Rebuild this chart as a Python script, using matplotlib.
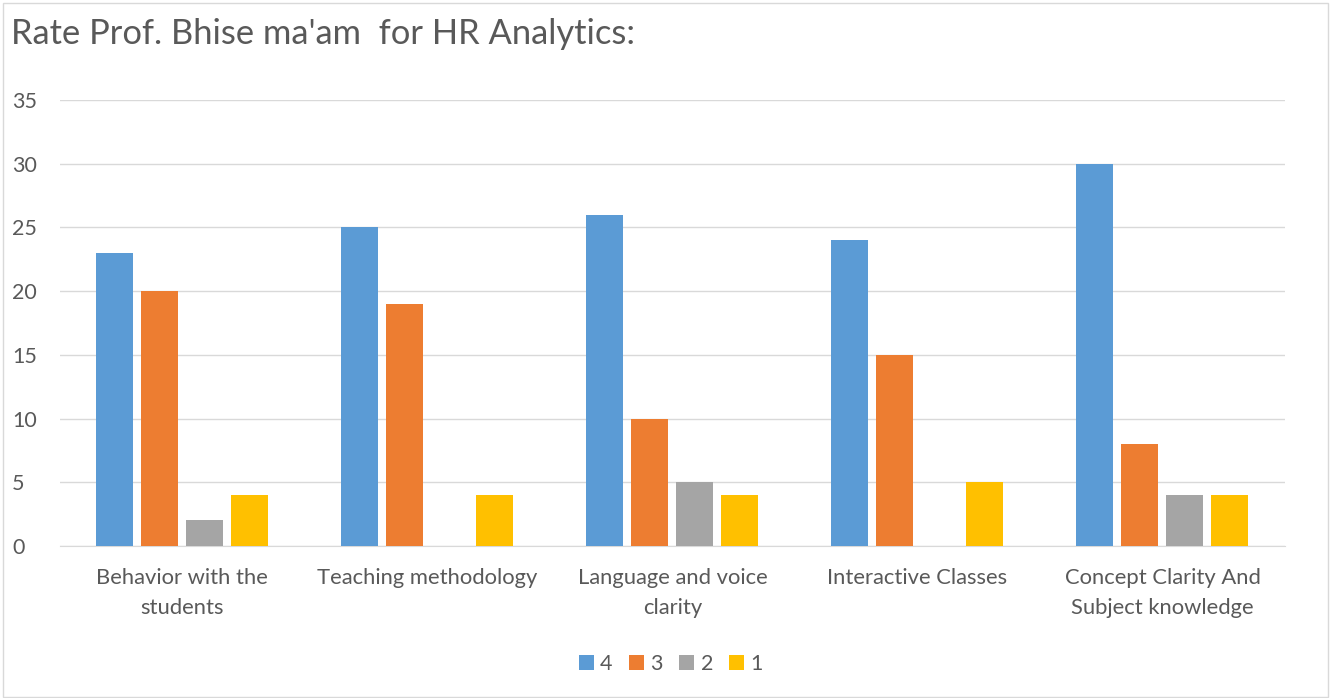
import numpy as np
import matplotlib.pyplot as plt
from matplotlib.patches import Rectangle

categories = ["Behavior with the\nstudents", "Teaching methodology",
              "Language and voice\nclarity", "Interactive Classes",
              "Concept Clarity And\nSubject knowledge"]
series_names = ["4", "3", "2", "1"]
r4 = [23, 25, 26, 24, 30]
r3 = [20, 19, 10, 15, 8]
r2 = [2, 0, 5, 0, 4]
r1 = [4, 4, 4, 5, 4]
colors = ["#5B9BD5", "#ED7D31", "#A5A5A5", "#FFC000"]
yticks = [0, 5, 10, 15, 20, 25, 30, 35]

plt.rcParams['font.family'] = ['Lato', 'DejaVu Sans']
txt = "#595959"

fig = plt.figure(figsize=(13.31, 6.98), dpi=100)
ax = fig.add_axes([0.045, 0.2178, 0.9204, 0.6389])

x = np.arange(len(categories))
step = 0.1837
width = 0.151
for i, (vals, name) in enumerate(zip([r4, r3, r2, r1], series_names)):
    ax.bar(x + (i - 1.5) * step, vals, width, color=colors[i], label=name, zorder=3)

ax.set_xlim(-0.5, len(categories) - 0.5)
ax.set_ylim(0, 35)
ax.set_yticks(yticks)
ax.set_xticks(x)
ax.set_xticklabels(categories, fontsize=15.8, color=txt, linespacing=1.6)
ax.tick_params(axis='y', labelsize=15.5, colors=txt, length=0, pad=34.5)
ax.tick_params(axis='x', length=0, pad=16)
ax.grid(axis='y', color="#D9D9D9", linewidth=1, zorder=0)
for s in ['top', 'right', 'left']:
    ax.spines[s].set_visible(False)
ax.spines['bottom'].set_color("#D9D9D9")
for lbl in ax.get_yticklabels():
    lbl.set_horizontalalignment('left')

fig.text(0.008, 0.952, "Rate Prof. Bhise ma'am  for HR Analytics:", fontsize=24.8,
         color=txt, va='center', ha='left')

leg = fig.legend(loc='center', bbox_to_anchor=(0.504, 0.048), ncol=4, frameon=False,
                 fontsize=15.5, handlelength=0.7, handleheight=0.7,
                 handletextpad=0.3, columnspacing=0.75, labelcolor=txt)

fig.patches.append(Rectangle((0.002, 0.002), 0.996, 0.994, transform=fig.transFigure,
                             fill=False, edgecolor="#D9D9D9", linewidth=1))

fig.savefig("out.png", dpi=100)
